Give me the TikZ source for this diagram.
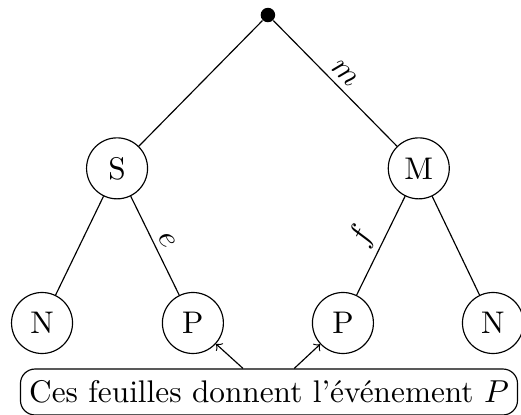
\documentclass[tikz,border=0pt]{standalone}
\usepackage{fontspec}
\usepackage{amsmath}
\usetikzlibrary{arrows.meta}
\tikzset{
  >=to, % open arrow heads
  racine/.style={circle,fill,inner sep=0pt,minimum size=5pt},
  etat/.style={circle,draw,thin,minimum size=0.74cm,inner sep=1pt},
  poids/.style={midway,above,sloped,inner sep=2pt},
  legende/.style={draw,rounded corners=5pt,thin,inner xsep=3pt,inner ysep=4pt}
}

\begin{document}
\begin{tikzpicture}[font=\fontsize{10.8pt}{13pt}\selectfont]
    \useasboundingbox (0,0) rectangle (6.32,5.022);
    % Draw root and first level
    \node[racine] (r) at (3.25,4.84) {};
    \node[etat] (S) at (1.42,2.98) {S};
    \node[etat] (M) at (5.08,2.98) {M};
    % Draw leaves
    \foreach \h/\x [count=\hi] in {N/0.51,P/2.34,P/4.16,N/5.98}{%
        \node[etat] (f\hi) at (\x,1.104) {\h};
    }
    % Edges with their labels
    \draw (r) -- (S);
    \draw (r) -- node[poids] {$m$} (M);
    \draw (S) -- (f1);
    \draw (S) -- node[poids] {$e$} (f2);
    \draw (M) -- node[poids] {$f$} (f3);
    \draw (M) -- (f4);
    % Caption box pointing at the leaves
    \node[legende] (leg) at (3.263,0.267) {Ces feuilles donnent l'événement $P$};
    \draw[->] (leg) -- (f2);
    \draw[->] (leg) -- (f3);
\end{tikzpicture}
\end{document}
